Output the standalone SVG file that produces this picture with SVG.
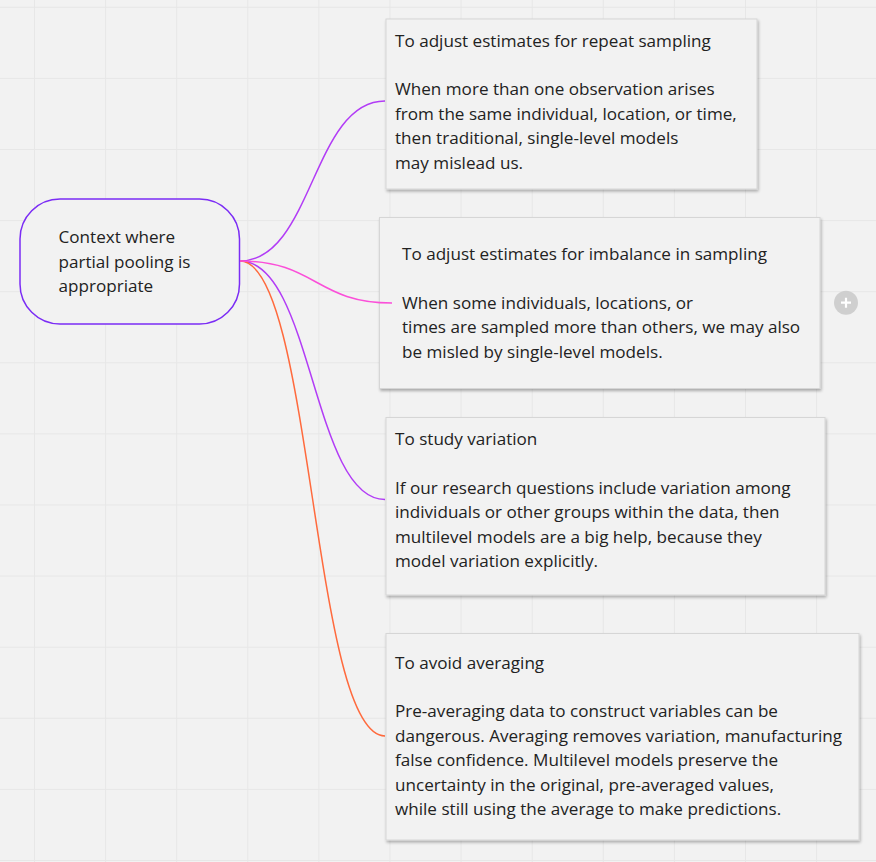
<svg xmlns="http://www.w3.org/2000/svg" width="876" height="862" viewBox="0 0 876 862">
<defs>
<style>
.grid{stroke:#e7e7e7;stroke-width:1;fill:none}
.card{fill:#f2f2f2;stroke:#d6d6d6;stroke-width:1;filter:url(#sh)}
.t{font-family:"Open Sans","Liberation Sans",sans-serif;font-size:17.1px;fill:#222222}
.c{fill:none;stroke-width:1.5}
</style>
<filter id="sh" x="-5%" y="-5%" width="115%" height="115%">
<feGaussianBlur in="SourceAlpha" stdDeviation="1.6"/>
<feOffset dx="1" dy="1.5" result="b"/>
<feComponentTransfer><feFuncA type="linear" slope="0.3"/></feComponentTransfer>
<feMerge><feMergeNode/><feMergeNode in="SourceGraphic"/></feMerge>
</filter>
</defs>
<rect width="876" height="862" fill="#f2f2f2"/>
<path class="grid" d="M34.5 0V862M105.6 0V862M176.7 0V862M247.8 0V862M318.9 0V862M390 0V862M461.1 0V862M532.2 0V862M603.3 0V862M674.4 0V862M745.5 0V862M816.6 0V862M0 7.3H876M0 78.4H876M0 149.5H876M0 220.6H876M0 291.7H876M0 362.8H876M0 433.9H876M0 505H876M0 576.1H876M0 647.2H876M0 718.3H876M0 789.4H876M0 860.5H876"/>

<g id="connectors">
<path class="c" stroke="#b23cf6" d="M240 261C312.5 261 312.5 101 385 101"/>
<path class="c" stroke="#b23cf6" d="M240 261C312.5 261 312.5 499.5 385 499.5"/>
<path class="c" stroke="#ff6a3d" d="M240 261C312.5 261 312.5 736 385 736"/>
</g>

<g id="root">
<rect x="20" y="199" width="219.5" height="125" rx="40" ry="40" fill="#f2f2f2" stroke="#7b2cf5" stroke-width="1.5"/>
<text class="t"><tspan x="58.5" y="243">Context where</tspan><tspan x="58.5" y="267.5">partial pooling is</tspan><tspan x="58.5" y="292">appropriate</tspan></text>
</g>

<g id="node1">
<rect class="card" x="386" y="19" width="371" height="170"/>
<text class="t"><tspan x="395" y="46.5">To adjust estimates for repeat sampling</tspan><tspan x="395" y="95.3">When more than one observation arises</tspan><tspan x="395" y="119.7">from the same individual, location, or time,</tspan><tspan x="395" y="144.1">then traditional, single-level models</tspan><tspan x="395" y="168.5">may mislead us.</tspan></text>
</g>

<g id="node2">
<rect class="card" x="379.5" y="217.5" width="440.5" height="171"/>
<text class="t"><tspan x="402" y="260">To adjust estimates for imbalance in sampling</tspan><tspan x="402" y="308.8">When some individuals, locations, or</tspan><tspan x="402" y="333.2">times are sampled more than others, we may also</tspan><tspan x="402" y="357.6">be misled by single-level models.</tspan></text>
</g>

<g id="node3">
<rect class="card" x="386" y="417.5" width="439" height="177.5"/>
<text class="t"><tspan x="395" y="445">To study variation</tspan><tspan x="395" y="493.8">If our research questions include variation among</tspan><tspan x="395" y="518.2">individuals or other groups within the data, then</tspan><tspan x="395" y="542.6">multilevel models are a big help, because they</tspan><tspan x="395" y="567">model variation explicitly.</tspan></text>
</g>

<g id="node4">
<rect class="card" x="386" y="633.5" width="473" height="206.5"/>
<text class="t"><tspan x="395" y="668.5">To avoid averaging</tspan><tspan x="395" y="717.3">Pre-averaging data to construct variables can be</tspan><tspan x="395" y="741.7">dangerous. Averaging removes variation, manufacturing</tspan><tspan x="395" y="766.1">false confidence. Multilevel models preserve the</tspan><tspan x="395" y="790.5">uncertainty in the original, pre-averaged values,</tspan><tspan x="395" y="814.9">while still using the average to make predictions.</tspan></text>
</g>

<g id="connector-pink">
<path class="c" stroke="#fb4fd9" d="M240 261C316 261 316 303 392 303"/>
</g>

<g id="add-button">
<circle cx="846" cy="302.7" r="12" fill="#cfcfcf"/>
<path d="M841 302.7H851M846 297.7V307.7" stroke="#ffffff" stroke-width="2.2"/>
</g>
</svg>
